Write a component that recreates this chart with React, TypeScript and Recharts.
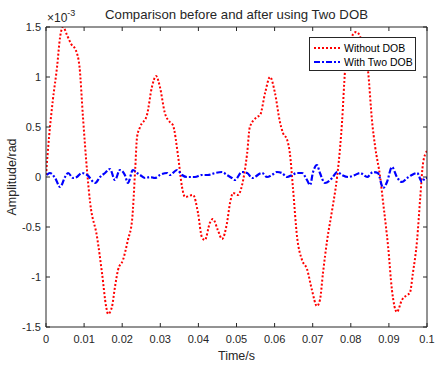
import { LineChart, Line, XAxis, YAxis, Legend } from "recharts";

// time axis in seconds, amplitudes in units of 1e-3 rad (axis shows x10^-3)
const timeRed = [
  0, 0.0008, 0.0018, 0.0029, 0.0037, 0.0045, 0.0055, 0.0066, 0.0078, 0.0088,
  0.0097, 0.0108, 0.0116, 0.0134, 0.0147, 0.0158, 0.0163, 0.0173, 0.0181, 0.0189,
  0.0202, 0.0215, 0.0226, 0.0234, 0.0239, 0.0247, 0.0265, 0.0278, 0.0289, 0.0299,
  0.0312, 0.0325, 0.0333, 0.0347, 0.0357, 0.0365, 0.0386, 0.0399, 0.0409, 0.0417,
  0.043, 0.0438, 0.0451, 0.0462, 0.0475, 0.0483, 0.0491, 0.0504, 0.0514, 0.0528,
  0.0535, 0.0554, 0.0562, 0.0575, 0.0588, 0.0601, 0.0614, 0.0622, 0.0633, 0.064,
  0.0648, 0.0659, 0.0672, 0.0685, 0.0698, 0.0711, 0.0719, 0.0727, 0.0738, 0.0751,
  0.0764, 0.0772, 0.0777, 0.0785, 0.0795, 0.0814, 0.0832, 0.0845, 0.0856, 0.0864,
  0.0877, 0.0885, 0.0898, 0.0908, 0.0921, 0.0934, 0.0948, 0.0955, 0.0963, 0.0974,
  0.0982, 0.099, 0.1,
];
const withoutDob = [
  0.02, 0.4, 0.77, 1.1, 1.4, 1.5, 1.42, 1.33, 1.27, 1.1,
  0.6, 0.05, -0.26, -0.6, -0.96, -1.3, -1.37, -1.3, -1.1, -0.93,
  -0.83, -0.63, -0.43, 0.07, 0.4, 0.5, 0.62, 0.9, 1.01, 0.9,
  0.64, 0.55, 0.52, 0.2, -0.1, -0.2, -0.18, -0.36, -0.6, -0.63,
  -0.46, -0.42, -0.53, -0.62, -0.46, -0.26, -0.16, -0.18, -0.09, 0.24,
  0.5, 0.6, 0.62, 0.84, 1.0, 0.84, 0.55, 0.44, 0.37, 0.24,
  -0.1, -0.6, -0.83, -0.92, -1.13, -1.29, -1.23, -0.96, -0.63, -0.33,
  0.0, 0.3, 0.55, 1.07, 1.32, 1.45, 1.32, 1.07, 0.55, 0.3,
  0.0, -0.26, -0.7, -1.13, -1.35, -1.23, -1.18, -1.16, -0.96, -0.63,
  -0.22, 0.15, 0.26,
];

const timeBlue = [
  0.0002, 0.001, 0.0024, 0.0037, 0.005, 0.0058, 0.0071, 0.0081, 0.0094, 0.0108,
  0.0129, 0.0142, 0.0155, 0.0168, 0.0181, 0.0194, 0.0207, 0.0215, 0.0228, 0.0239,
  0.0247, 0.026, 0.0273, 0.0286, 0.0299, 0.0318, 0.0325, 0.0344, 0.0357, 0.037,
  0.0391, 0.0409, 0.0425, 0.0444, 0.0462, 0.0475, 0.0488, 0.0496, 0.0514, 0.0528,
  0.0541, 0.0567, 0.058, 0.0593, 0.0606, 0.0619, 0.0633, 0.0646, 0.0659, 0.0672,
  0.0685, 0.0693, 0.0701, 0.0711, 0.0719, 0.0732, 0.0751, 0.0764, 0.0777, 0.0793,
  0.0811, 0.0824, 0.0843, 0.0858, 0.0871, 0.0885, 0.0895, 0.0908, 0.0921, 0.0934,
  0.0948, 0.096, 0.0974, 0.0987, 0.0995, 0.1,
];
const withTwoDob = [
  0.02, 0.04, -0.01, -0.1, 0.0, 0.04, -0.01, 0.0, 0.04, 0.02,
  -0.06, 0.0, 0.04, 0.08, -0.03, 0.07, 0.02, -0.06, 0.07, 0.04,
  0.02, -0.01, 0.0, -0.01, 0.02, 0.04, 0.02, 0.07, 0.02, 0.0,
  0.0, 0.02, 0.02, 0.04, 0.05, 0.02, -0.01, -0.03, 0.05, 0.04,
  -0.01, 0.04, 0.0, 0.02, 0.05, 0.04, 0.0, 0.02, 0.04, 0.04,
  -0.03, -0.08, 0.05, 0.12, 0.04, -0.06, -0.01, 0.05, 0.02, 0.0,
  0.02, 0.04, 0.0, 0.05, 0.04, -0.11, -0.05, 0.1, 0.0, -0.05,
  -0.01, 0.02, 0.04, -0.05, -0.01, -0.01,
];

const seriesNames = ["Without DOB", "With Two DOB"];
const xTicks = [0, 0.01, 0.02, 0.03, 0.04, 0.05, 0.06, 0.07, 0.08, 0.09, 0.1];
const yTicks = [-1.5, -1, -0.5, 0, 0.5, 1, 1.5];

const FONT = '"Liberation Sans", Arial, Helvetica, sans-serif';
const AXIS = "#262626";

const redData = timeRed.map((t, i) => ({ t, v: withoutDob[i] }));
const blueData = timeBlue.map((t, i) => ({ t, v: withTwoDob[i] }));

const tickStyle = { fill: AXIS, fontSize: 11, fontFamily: FONT };

const LegendBox = ({ payload }: any) => {
  // keep plotting order, not alphabetical
  const items = [...(payload || [])].sort(
    (a: any, b: any) => seriesNames.indexOf(a.value) - seriesNames.indexOf(b.value)
  );
  return (
    <div
      style={{
        width: 107,
        height: 34,
        boxSizing: "border-box",
        border: `1px solid ${AXIS}`,
        background: "#fff",
        fontFamily: FONT,
        fontSize: 10.5,
        color: "#000",
        padding: "3px 0 0 3px",
      }}
    >
      {items.map((p: any) => (
        <div key={p.value} style={{ display: "flex", alignItems: "center", height: 14 }}>
          <svg width={28} height={6} style={{ marginRight: 3 }}>
            <line
              x1={1}
              x2={27}
              y1={3}
              y2={3}
              stroke={p.color}
              strokeWidth={2}
              strokeDasharray={p.payload?.strokeDasharray}
            />
          </svg>
          <span>{p.value}</span>
        </div>
      ))}
    </div>
  );
};

export default function App() {
  return (
    <div style={{ position: "absolute", left: 0, top: 0, background: "#fff" }}>
      <LineChart
        width={435}
        height={365}
        margin={{ top: 26, right: 7, bottom: 0, left: 0 }}
      >
        <XAxis
          xAxisId="bottom"
          type="number"
          dataKey="t"
          domain={[0, 0.1]}
          ticks={xTicks}
          allowDataOverflow
          height={38}
          stroke={AXIS}
          tickSize={-4}
          tickMargin={12}
          tick={tickStyle}
          label={{
            value: "Time/s",
            position: "insideBottom",
            offset: 5,
            fill: AXIS,
            fontSize: 12.5,
            fontFamily: FONT,
          }}
        />
        <XAxis
          xAxisId="top"
          orientation="top"
          type="number"
          dataKey="t"
          domain={[0, 0.1]}
          ticks={xTicks}
          allowDataOverflow
          height={1}
          stroke={AXIS}
          tickSize={-4}
          tickFormatter={() => ""}
          label={{
            content: ({ viewBox }: any) => (
              <g fontFamily={FONT} fill={AXIS}>
                <text
                  x={viewBox.x + viewBox.width / 2}
                  y={viewBox.y - 7}
                  textAnchor="middle"
                  fontSize={13.2}
                >
                  Comparison before and after using Two DOB
                </text>
                <text x={viewBox.x + 1} y={viewBox.y - 4} fontSize={12}>
                  ×10
                  <tspan dy={-6} fontSize={9}>
                    -3
                  </tspan>
                </text>
              </g>
            ),
          }}
        />
        <YAxis
          yAxisId="left"
          type="number"
          domain={[-1.5, 1.5]}
          ticks={yTicks}
          allowDataOverflow
          width={46}
          stroke={AXIS}
          tickSize={-4}
          tickMargin={9}
          tick={tickStyle}
          label={{
            content: ({ viewBox }: any) => (
              <text
                x={viewBox.x + 16}
                y={viewBox.y + viewBox.height / 2}
                transform={`rotate(-90 ${viewBox.x + 16} ${viewBox.y + viewBox.height / 2})`}
                textAnchor="middle"
                fontSize={12.5}
                fontFamily={FONT}
                fill={AXIS}
              >
                Amplitude/rad
              </text>
            ),
          }}
        />
        <YAxis
          yAxisId="right"
          orientation="right"
          type="number"
          domain={[-1.5, 1.5]}
          ticks={yTicks}
          allowDataOverflow
          width={1}
          stroke={AXIS}
          tickSize={-4}
          tickFormatter={() => ""}
        />
        <Legend
          layout="vertical"
          align="center"
          verticalAlign="middle"
          content={<LegendBox />}
          wrapperStyle={{ top: 37, left: 309, width: "auto", height: "auto" }}
        />
        <Line
          xAxisId="bottom"
          yAxisId="left"
          data={redData}
          dataKey="v"
          name={seriesNames[0]}
          type="monotone"
          stroke="#ff0000"
          strokeWidth={2}
          strokeDasharray="2 2"
          dot={false}
          activeDot={false}
          isAnimationActive={false}
        />
        <Line
          xAxisId="bottom"
          yAxisId="left"
          data={blueData}
          dataKey="v"
          name={seriesNames[1]}
          type="monotone"
          stroke="#0000ff"
          strokeWidth={2.2}
          strokeDasharray="6 2 2 2"
          dot={false}
          activeDot={false}
          isAnimationActive={false}
        />
      </LineChart>
    </div>
  );
}
